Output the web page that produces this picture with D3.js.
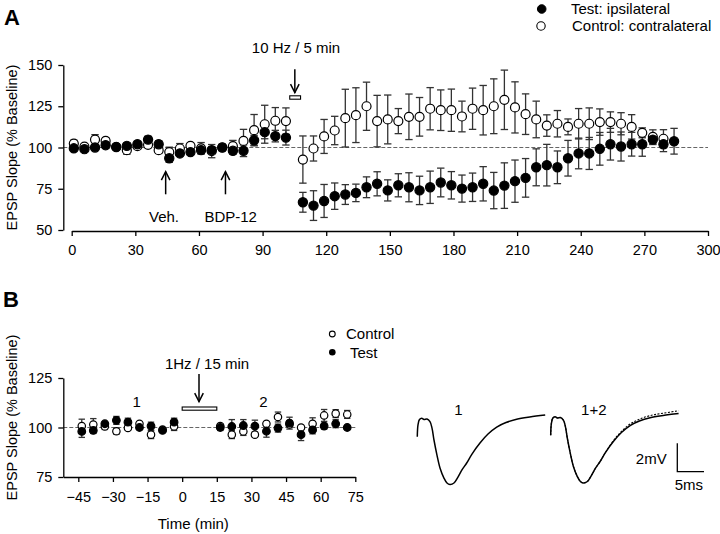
<!DOCTYPE html>
<html><head><meta charset="utf-8">
<script src="https://cdn.jsdelivr.net/npm/d3@7"></script>
<style>
body{margin:0;background:#fff}
svg{display:block}
text{font-family:"Liberation Sans",Arial,Helvetica,sans-serif;fill:#000}
</style>
</head><body>
<svg id="c" width="720" height="534"></svg>
<script>
// ---------- Panel A data ----------
const timeA_pre = [1,6,11,16,21,26,31,36,41,46,51,56,61,66,71,76,81,86,91,96,101];
const testA_pre = [99.5,99,100,101.4,100.3,101,102,104.8,102,93.5,96.4,97.2,98.4,98.4,100,98,98,104.4,109.3,106.9,106];
const testA_preErr = [1.5,1.5,1.5,2,1,1.5,1.5,2,2,2.5,1.5,1.5,2,2,1.5,2,3.5,3,4,3.5,4.5];
const ctrlA_pre = [102.4,100.5,104.8,104,100.3,98.4,100.8,101.6,98.4,97.2,99.4,101,99.5,97.8,100,100.8,104,110.5,114.1,116.2,116];
const ctrlA_preErr = [2,1.5,3,2,1,2.5,1.5,1.5,2,3,3,1.5,3.5,4,2,3.5,7,9.5,11.5,8,8];

const timeA_post = [109,114,119,124,129,134,139,144,149,154,159,164,169,174,179,184,189,194,199,204,209,214,219,224,229,234,239,244,249,254,259,264,269,274,279,284];
const testA_post = [66.8,64.8,67.6,70.5,71.5,72.5,75.9,78,74,77.1,75.9,74,75.9,78.8,77.1,75.1,75.9,78,73.9,76.9,79.6,81.6,88,89.3,88,93.5,96.4,96.4,99.2,102,100.6,102,102,104.8,102,103.8];
const testA_postErr = [6,9,10,8,6,5.3,6.3,7.3,6.4,7,8.8,8.6,9.8,8.7,8.3,8.2,8.6,10.4,11,13.8,12.8,11.7,11.2,12.6,9.9,10.8,9.3,9.7,9.9,9.6,8.8,7.2,7.3,3,4.5,7.8];
const timeA_postCtrl = [109,114,119,124,129,134,139,144,149,154,159,164,169,174,179,184,189,194,199,204,209,214,219,224,229,234,239,244,249,254,259,264,269,274,279];
const ctrlA_post = [92.7,99.4,106.7,110.3,117.8,119.6,125,116,117,116,118.6,118.6,123.5,122.6,122.6,118.8,123.5,122.6,125,128.9,124.3,120.2,117,113.3,114.4,112.5,114.4,114.4,115.4,115.4,114.4,112.5,108.9,106.5,105.3];
const ctrlA_postErr = [14.3,7.6,10.3,8.6,17.5,16.6,14.6,15.6,14.8,7.6,13.8,11.7,12.8,12.3,12.8,9.3,12.5,15,16.6,18,15.5,12.3,11.1,6.5,8,4.8,9.2,9.6,8,6.2,6.7,7.4,3,4.2,5.5];

const ticksA_x = [0,30,60,90,120,150,180,210,240,270,300];
const ticksA_y = [50,75,100,125,150];

// ---------- Panel B data ----------
const timeB = [-43.5,-38.5,-33.5,-28.5,-23.5,-18.5,-13.5,-8.5,-3.5,16.5,21.5,26.5,31.5,36.5,41.5,46.5,51.5,56.5,61.5,66.5,71.5];
const testB = [98,98.5,101.9,103.6,102.7,100,100.7,98.5,102.7,100,100.5,101,100.7,98.1,99.7,102.2,96.4,98.8,100.7,101.9,100];
const testBErr = [3,1.5,1,2,2,1,2,0.8,2,1.5,3.5,3,3,3,2,3,3,2,1.5,2,1];
const ctrlB = [100.7,101.5,100.5,98.1,99.8,101.9,96.4,99,100.5,100.7,96.4,98,96.4,101.9,105.3,101.5,100,101.9,106.1,107,106.6];
const ctrlBErr = [3.5,3,1.5,1.5,1,1,2,0.8,2,1,2,2,1,1,2.5,1,1,3,3,2,2];
const ticksB_x = [-45,-30,-15,0,15,30,45,60,75];
const ticksB_y = [75,100,125];

// ---------- EPSP traces (ms, mV) ----------
const traceTime = [0,0.13,0.41,0.83,1.26,1.82,2.38,2.76,3.13,3.69,4.26,5.0,5.57,6.13,6.88,7.63,8.38,9.27,10.26,11.76,13.27,14.9,16.64,18.65,21.1,24.0];
const trace1 = [-1.53,-0.7,-0.32,-0.23,-0.32,-0.28,-0.47,-0.92,-1.76,-2.82,-3.73,-4.44,-4.79,-4.89,-4.79,-4.37,-3.87,-3.38,-2.75,-1.97,-1.34,-0.85,-0.53,-0.3,-0.14,0];
const trace2 = [-1.53,-0.7,-0.32,-0.23,-0.32,-0.28,-0.47,-0.92,-1.76,-2.82,-3.73,-4.44,-4.79,-4.89,-4.79,-4.37,-3.87,-3.38,-2.75,-1.92,-1.26,-0.74,-0.40,-0.15,0.02,0.19];

// ---------- drawing ----------
const svg = d3.select("#c");
const FONT = 14.5;

function errBars(g, xs, ys, pts, cap) {
  const sel = g.append("g").attr("stroke","#333").attr("stroke-width",1.3).attr("fill","none");
  pts.forEach(p => {
    const x = xs(p.t), y1 = ys(p.m - p.e), y2 = ys(p.m + p.e);
    sel.append("line").attr("x1",x).attr("x2",x).attr("y1",y1).attr("y2",y2);
    sel.append("line").attr("x1",x-cap).attr("x2",x+cap).attr("y1",y1).attr("y2",y1);
    sel.append("line").attr("x1",x-cap).attr("x2",x+cap).attr("y1",y2).attr("y2",y2);
  });
}
function dots(g, xs, ys, pts, r, filled) {
  g.append("g").selectAll("circle").data(pts).join("circle")
    .attr("cx",d=>xs(d.t)).attr("cy",d=>ys(d.m)).attr("r",r)
    .attr("fill", filled ? "#000" : "#fff").attr("stroke","#000").attr("stroke-width",1.2);
}
function styleAxis(g) {
  g.selectAll("path.domain").attr("stroke","#000").attr("stroke-width",1.3);
  g.selectAll(".tick line").attr("stroke","#000").attr("stroke-width",1.3);
  g.selectAll(".tick text").attr("font-size",FONT).attr("font-family",'"Liberation Sans",Arial,sans-serif').attr("fill","#000");
}
function arrow(g, x, yTail, yTip) {
  const dir = yTip > yTail ? 1 : -1;
  g.append("line").attr("x1",x).attr("x2",x).attr("y1",yTail).attr("y2",yTip)
    .attr("stroke","#000").attr("stroke-width",1.5);
  g.append("path").attr("d",`M${x-4.3},${yTip-dir*8.5}L${x},${yTip}L${x+4.3},${yTip-dir*8.5}`)
    .attr("stroke","#000").attr("stroke-width",1.5).attr("fill","none");
}
function zip(ts, ms, es) { return ts.map((t,i)=>({t, m: ms[i], e: es[i]})); }

// ===== Panel A =====
const xA = d3.scaleLinear().domain([0,300]).range([71.7,708]);
const yA = d3.scaleLinear().domain([50,150]).range([230,65]);
const gA = svg.append("g");

gA.append("line").attr("x1",63.3).attr("x2",708).attr("y1",yA(100)).attr("y2",yA(100))
  .attr("stroke","#666").attr("stroke-width",1).attr("stroke-dasharray","4,2");

const axAx = gA.append("g").attr("transform","translate(0,231)")
  .call(d3.axisBottom(xA).tickValues(ticksA_x).tickSize(5).tickPadding(9).tickSizeOuter(0));
styleAxis(axAx);
const axAy = gA.append("g").attr("transform","translate(63.3,0)")
  .call(d3.axisLeft(yA).tickValues(ticksA_y).tickSize(5).tickPadding(6).tickSizeOuter(0));
styleAxis(axAy);

const ctrlPtsA = zip(timeA_pre, ctrlA_pre, ctrlA_preErr).concat(zip(timeA_postCtrl, ctrlA_post, ctrlA_postErr));
const testPtsA = zip(timeA_pre, testA_pre, testA_preErr).concat(zip(timeA_post, testA_post, testA_postErr));
errBars(gA, xA, yA, ctrlPtsA, 3.7);
errBars(gA, xA, yA, testPtsA, 3.7);
dots(gA, xA, yA, ctrlPtsA, 4.5, false);
dots(gA, xA, yA, testPtsA, 4.6, true);

// annotations A
gA.append("text").attr("x",12).attr("y",147.5).attr("transform","rotate(-90,12,147.5)")
  .attr("text-anchor","middle").attr("dy","0.35em").attr("font-size",14.5).text("EPSP Slope (% Baseline)");
svg.append("text").attr("x",4).attr("y",25).attr("font-size",22).attr("font-weight","bold").text("A");
gA.append("text").attr("x",296).attr("y",48).attr("dy","0.35em").attr("text-anchor","middle").attr("font-size",15).text("10 Hz / 5 min");
arrow(gA, xA(105.2), 69.3, 92.7);
gA.append("rect").attr("x",xA(102.8)).attr("y",95.8).attr("width",xA(107.9)-xA(102.8)).attr("height",3.4)
  .attr("fill","#fff").attr("stroke","#000").attr("stroke-width",1.1);
arrow(gA, xA(44.3), 194.3, 171.7);
arrow(gA, xA(72.5), 194.3, 171.7);
gA.append("text").attr("x",164).attr("y",216.7).attr("dy","0.35em").attr("text-anchor","middle").attr("font-size",15).text("Veh.");
gA.append("text").attr("x",230.7).attr("y",216.7).attr("dy","0.35em").attr("text-anchor","middle").attr("font-size",15).text("BDP-12");
// legend A
gA.append("circle").attr("cx",541.7).attr("cy",9).attr("r",4.3).attr("fill","#000").attr("stroke","#000");
gA.append("text").attr("x",571).attr("y",9).attr("dy","0.35em").attr("font-size",15).text("Test: ipsilateral");
gA.append("circle").attr("cx",541).attr("cy",26).attr("r",4.2).attr("fill","#fff").attr("stroke","#000").attr("stroke-width",1.1);
gA.append("text").attr("x",572).attr("y",26).attr("dy","0.35em").attr("font-size",15).text("Control: contralateral");

// ===== Panel B =====
const xB = d3.scaleLinear().domain([-51.5,75]).range([63.3,355.3]);
const yB = d3.scaleLinear().domain([75,125]).range([477,378]);
const gB = svg.append("g");

gB.append("line").attr("x1",63.3).attr("x2",355.3).attr("y1",yB(100)).attr("y2",yB(100))
  .attr("stroke","#666").attr("stroke-width",1).attr("stroke-dasharray","4,2");
const axBx = gB.append("g").attr("transform","translate(0,477)")
  .call(d3.axisBottom(xB).tickValues(ticksB_x).tickSize(5).tickPadding(10).tickSizeOuter(0));
styleAxis(axBx);
const axBy = gB.append("g").attr("transform","translate(63.3,0)")
  .call(d3.axisLeft(yB).tickValues(ticksB_y).tickSize(5).tickPadding(6).tickSizeOuter(0));
styleAxis(axBy);

const ctrlPtsB = zip(timeB, ctrlB, ctrlBErr);
const testPtsB = zip(timeB, testB, testBErr);
errBars(gB, xB, yB, ctrlPtsB, 3.2);
errBars(gB, xB, yB, testPtsB, 3.2);
dots(gB, xB, yB, ctrlPtsB, 3.7, false);
dots(gB, xB, yB, testPtsB, 3.8, true);

gB.append("text").attr("x",12).attr("y",417.5).attr("transform","rotate(-90,12,417.5)")
  .attr("text-anchor","middle").attr("dy","0.35em").attr("font-size",14.5).text("EPSP Slope (% Baseline)");
svg.append("text").attr("x",3).attr("y",307).attr("font-size",22).attr("font-weight","bold").text("B");
gB.append("text").attr("x",193.3).attr("y",523.3).attr("dy","0.35em").attr("text-anchor","middle").attr("font-size",15).text("Time (min)");
gB.append("text").attr("x",207).attr("y",363.3).attr("dy","0.35em").attr("text-anchor","middle").attr("font-size",15).text("1Hz / 15 min");
arrow(gB, 199, 374, 401.7);
gB.append("rect").attr("x",xB(0)).attr("y",407).attr("width",xB(15)-xB(0)).attr("height",3.2)
  .attr("fill","#fff").attr("stroke","#000").attr("stroke-width",1.1);
gB.append("text").attr("x",136.7).attr("y",401.7).attr("dy","0.35em").attr("text-anchor","middle").attr("font-size",15).text("1");
gB.append("text").attr("x",263.3).attr("y",401.7).attr("dy","0.35em").attr("text-anchor","middle").attr("font-size",15).text("2");
// legend B
gB.append("circle").attr("cx",332.3).attr("cy",334).attr("r",2.9).attr("fill","#fff").attr("stroke","#000").attr("stroke-width",1.1);
gB.append("text").attr("x",346).attr("y",334).attr("dy","0.35em").attr("font-size",15).text("Control");
gB.append("circle").attr("cx",332.3).attr("cy",352.3).attr("r",3.3).attr("fill","#000");
gB.append("text").attr("x",350).attr("y",352.3).attr("dy","0.35em").attr("font-size",15).text("Test");

// ===== Traces =====
const gT = svg.append("g");
const tx1 = d3.scaleLinear().domain([0,24]).range([417.3,545.2]);
const ty1 = d3.scaleLinear().domain([-5,0]).range([486,415]);
const tx2 = d3.scaleLinear().domain([0,24]).range([550.7,678.6]);
const ty2 = d3.scaleLinear().domain([-5,0]).range([484.5,413.5]);
const pts1 = traceTime.map((t,i)=>[t,trace1[i]]);
const pts2 = traceTime.map((t,i)=>[t,trace2[i]]);
const line1 = d3.line().x(d=>tx1(d[0])).y(d=>ty1(d[1])).curve(d3.curveCatmullRom);
const line2 = d3.line().x(d=>tx2(d[0])).y(d=>ty2(d[1])).curve(d3.curveCatmullRom);
gT.append("path").attr("d",line1(pts1)).attr("fill","none").attr("stroke","#000").attr("stroke-width",1.5);
gT.append("path").attr("d",line2(pts2)).attr("fill","none").attr("stroke","#000").attr("stroke-width",1.1).attr("stroke-dasharray","2,1.5");
gT.append("path").attr("d",line2(pts1)).attr("fill","none").attr("stroke","#000").attr("stroke-width",1.5);
gT.append("text").attr("x",458.3).attr("y",410).attr("dy","0.35em").attr("text-anchor","middle").attr("font-size",15).text("1");
gT.append("text").attr("x",593.8).attr("y",410).attr("dy","0.35em").attr("text-anchor","middle").attr("font-size",15).text("1+2");
// scale bar
const sbx = d3.scaleLinear().domain([0,5]).range([677.3,704]);
const sby = d3.scaleLinear().domain([0,2]).range([471.7,443.3]);
gT.append("path").attr("d",`M${sbx(0)},${sby(2)}L${sbx(0)},${sby(0)}L${sbx(5)},${sby(0)}`)
  .attr("fill","none").attr("stroke","#000").attr("stroke-width",1.3);
gT.append("text").attr("x",666.7).attr("y",458.3).attr("dy","0.35em").attr("text-anchor","end").attr("font-size",15).text("2mV");
gT.append("text").attr("x",688.8).attr("y",485).attr("dy","0.35em").attr("text-anchor","middle").attr("font-size",15).text("5ms");
</script>
</body></html>
